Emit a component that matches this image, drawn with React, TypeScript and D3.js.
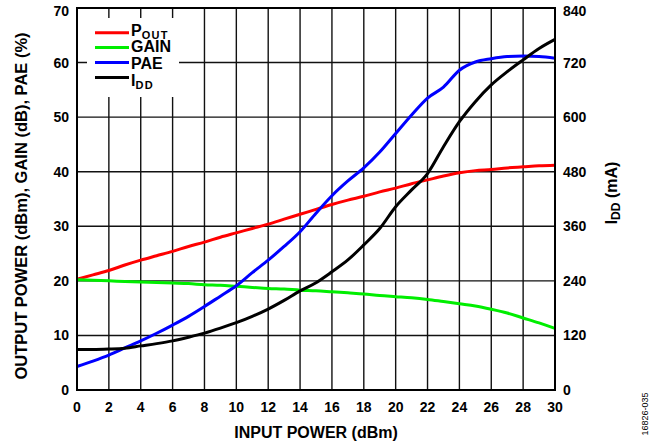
import React from "react";
import * as d3 from "d3";

const inputPower = [0, 1, 2, 3, 4, 5, 6, 7, 8, 9, 10, 11, 12, 13, 14, 15, 16, 17, 18, 19, 20, 21, 22, 23, 24, 25, 26, 27, 28, 29, 30];
const pout = [20.3, 21.1, 21.9, 22.9, 23.8, 24.6, 25.4, 26.3, 27.1, 28.0, 28.8, 29.6, 30.4, 31.3, 32.2, 33.1, 34.0, 34.8, 35.5, 36.3, 37.0, 37.8, 38.5, 39.2, 39.8, 40.2, 40.4, 40.7, 40.9, 41.1, 41.2];
const gain = [20.2, 20.1, 20.0, 19.9, 19.8, 19.7, 19.6, 19.5, 19.3, 19.2, 19.0, 18.8, 18.6, 18.5, 18.3, 18.2, 18.0, 17.8, 17.6, 17.3, 17.1, 16.9, 16.6, 16.2, 15.8, 15.4, 14.8, 14.1, 13.2, 12.3, 11.3];
const pae = [4.3, 5.3, 6.4, 7.7, 9.0, 10.4, 11.9, 13.5, 15.3, 17.2, 19.1, 21.5, 23.8, 26.3, 29.0, 32.4, 35.6, 38.3, 40.7, 43.6, 47.0, 50.4, 53.5, 55.5, 58.6, 60.1, 60.7, 61.1, 61.2, 61.1, 60.8];
const idd = [89, 89, 90, 92, 97, 102, 108, 116, 125, 136, 148, 162, 178, 197, 218, 236, 260, 286, 319, 355, 403, 440, 476, 535, 590, 634, 671, 700, 726, 751, 771];

const xTicks = d3.range(0, 31, 2);
const yLeftTicks = [0, 10, 20, 30, 40, 50, 60, 70];
const yRightTicks = [0, 120, 240, 360, 480, 600, 720, 840];

const W = 649, H = 446;
const M = { left: 77, right: 555, top: 8, bottom: 390 };
const FONT = "'Liberation Sans', Arial, Helvetica, sans-serif";

export default function App() {
  const x = d3.scaleLinear().domain([0, 30]).range([M.left, M.right]);
  const yL = d3.scaleLinear().domain([0, 70]).range([M.bottom, M.top]);
  const yR = d3.scaleLinear().domain([0, 840]).range([M.bottom, M.top]);

  const mk = (vals: number[], sc: d3.ScaleLinear<number, number>) =>
    d3.line<number>().x((_, i) => x(inputPower[i])).y((v) => sc(v)).curve(d3.curveMonotoneX)(vals) || "";

  const series = [
    { name: "pout", d: mk(pout, yL), color: "#ff0000" },
    { name: "gain", d: mk(gain, yL), color: "#00ee00" },
    { name: "pae", d: mk(pae, yL), color: "#0000ff" },
    { name: "idd", d: mk(idd, yR), color: "#000000" },
  ];

  const legend = [
    { main: "P", sub: "OUT", color: "#ff0000" },
    { main: "GAIN", sub: "", color: "#00ee00" },
    { main: "PAE", sub: "", color: "#0000ff" },
    { main: "I", sub: "DD", color: "#000000" },
  ];

  return (
    <svg width={W} height={H} style={{ position: "absolute", left: 0, top: 0 }} fontFamily={FONT}>
      <rect x={0} y={0} width={W} height={H} fill="#fff" />
      {/* grid */}
      {xTicks.map((t) => (
        <line key={"gx" + t} x1={x(t)} x2={x(t)} y1={M.top} y2={M.bottom} stroke="#111" strokeWidth={1.4} />
      ))}
      {yLeftTicks.map((t) => (
        <line key={"gy" + t} x1={M.left} x2={M.right} y1={yL(t)} y2={yL(t)} stroke="#111" strokeWidth={1.4} />
      ))}
      {/* legend background */}
      <rect x={87} y={18} width={92} height={79} fill="#fff" />
      {/* series */}
      {series.map((s) => (
        <path key={s.name} d={s.d} fill="none" stroke={s.color} strokeWidth={3} strokeLinejoin="round" />
      ))}
      {/* frame */}
      <rect x={M.left} y={M.top} width={M.right - M.left} height={M.bottom - M.top} fill="none" stroke="#000" strokeWidth={2} />
      {/* legend */}
      {legend.map((l, i) => {
        const ly = 32.7 + i * 14.9;
        const ty = 35.5 + i * 16.8;
        return (
          <g key={l.main}>
            <line x1={95} x2={129} y1={ly} y2={ly} stroke={l.color} strokeWidth={3} />
            <text x={131} y={ty} fontSize={16} fontWeight="bold" fill="#000">
              {l.main}
              {l.sub && (
                <tspan fontSize={11} dy={3} letterSpacing={1.3}>{l.sub}</tspan>
              )}
            </text>
          </g>
        );
      })}
      {/* left tick labels */}
      {yLeftTicks.map((t) => (
        <text key={"yl" + t} x={69} y={Math.max(yL(t), 11)} dy="0.36em" textAnchor="end" fontSize={14} fontWeight="bold">
          {t}
        </text>
      ))}
      {/* right tick labels */}
      {yRightTicks.map((t) => (
        <text key={"yr" + t} x={563} y={Math.max(yR(t), 11)} dy="0.36em" textAnchor="start" fontSize={14} fontWeight="bold">
          {t}
        </text>
      ))}
      {/* bottom tick labels */}
      {xTicks.map((t) => (
        <text key={"xl" + t} x={x(t)} y={412} textAnchor="middle" fontSize={14} fontWeight="bold">
          {t}
        </text>
      ))}
      {/* axis titles */}
      <text x={316} y={438} textAnchor="middle" fontSize={16} fontWeight="bold">INPUT POWER (dBm)</text>
      <text transform={`translate(26.5,206) rotate(-90)`} textAnchor="middle" fontSize={16.5} fontWeight="bold">
        OUTPUT POWER (dBm), GAIN (dB), PAE (%)
      </text>
      <text transform={`translate(617,193) rotate(-90)`} textAnchor="middle" fontSize={16} fontWeight="bold">
        I<tspan fontSize={12} dy={3}>DD</tspan><tspan dy={-3}> (mA)</tspan>
      </text>
      <text transform={`translate(648,414) rotate(-90)`} textAnchor="middle" fontSize={9} fill="#000">
        16826-035
      </text>
    </svg>
  );
}
